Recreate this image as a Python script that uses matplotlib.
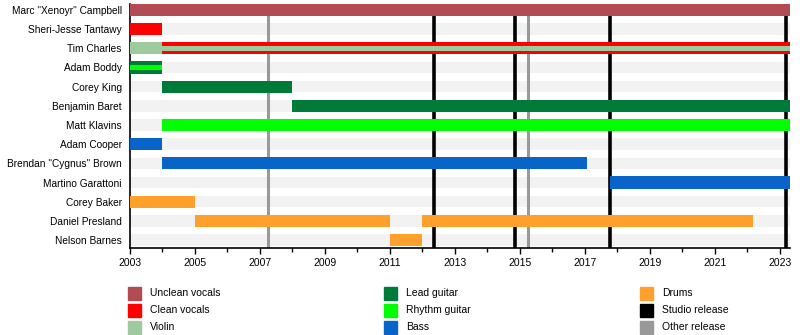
import matplotlib.pyplot as plt
from matplotlib.patches import Rectangle

plt.rcParams['font.family'] = ['Liberation Sans', 'DejaVu Sans']

# band members, top to bottom
members = ['Marc "Xenoyr" Campbell', 'Sheri-Jesse Tantawy', 'Tim Charles',
           'Adam Boddy', 'Corey King', 'Benjamin Baret', 'Matt Klavins',
           'Adam Cooper', 'Brendan "Cygnus" Brown', 'Martino Garattoni',
           'Corey Baker', 'Daniel Presland', 'Nelson Barnes']

START = 2003.0
END = 2023.32

roles = ['Unclean vocals', 'Clean vocals', 'Violin', 'Lead guitar',
         'Rhythm guitar', 'Bass', 'Drums', 'Studio release', 'Other release']
role_colors = ['#b34b52', '#ff0000', '#9dcb9d', '#007a38', '#00ff00',
               '#0864c8', '#ffa02c', '#000000', '#999999']

# (member, start, end, role)
bars = [
    (0, 2003.0, END, 'Unclean vocals'),
    (1, 2003.0, 2004.0, 'Clean vocals'),
    (2, 2003.0, 2004.0, 'Violin'),
    (2, 2004.0, END, 'Clean vocals'),
    (3, 2003.0, 2004.0, 'Lead guitar'),
    (4, 2004.0, 2008.0, 'Lead guitar'),
    (5, 2008.0, END, 'Lead guitar'),
    (6, 2004.0, END, 'Rhythm guitar'),
    (7, 2003.0, 2004.0, 'Bass'),
    (8, 2004.0, 2017.08, 'Bass'),
    (9, 2017.78, END, 'Bass'),
    (10, 2003.0, 2005.0, 'Drums'),
    (11, 2005.0, 2011.0, 'Drums'),
    (11, 2012.0, 2022.17, 'Drums'),
    (12, 2011.0, 2012.0, 'Drums'),
]

# thin secondary-role stripes drawn over the main bar
stripes = [
    (2, 2004.0, END, 'Violin'),
    (3, 2003.0, 2004.0, 'Rhythm guitar'),
]

studio_releases = [2012.35, 2014.85, 2017.78, 2023.19]
other_releases = [2007.26, 2015.25]

col = dict(zip(roles, role_colors))

fig = plt.figure(figsize=(8, 3.35), dpi=100)
ax = fig.add_axes([130 / 800, 1 - 248 / 335, 660 / 800, 244 / 335])

n = len(members)
pitch = 19.17
ax.set_ylim(12 + 8 / pitch, -(10 - 4) / pitch)
ax.set_xlim(START, END)

# light background bands
for i in range(n):
    ax.barh(i, END - START, left=START, height=0.6, color='#f2f2f2', zorder=1)

for x in other_releases:
    ax.axvline(x, color=col['Other release'], lw=2.2, zorder=2)
for x in studio_releases:
    ax.axvline(x, color=col['Studio release'], lw=2.6, zorder=2)

for m, s, e, r in bars:
    ax.barh(m, e - s, left=s, height=0.64, color=col[r], zorder=3)
for m, s, e, r in stripes:
    ax.barh(m, e - s, left=s, height=0.27, color=col[r], zorder=4)

ax.set_yticks(range(n))
ax.set_yticklabels(members, fontsize=7.3)
ax.tick_params(axis='y', length=0, pad=6)
ax.set_xticks(range(2003, 2024, 2))
ax.set_xticks(range(2003, 2024), minor=True)
ax.tick_params(axis='x', labelsize=7.5, length=4, width=1, pad=3)
ax.tick_params(axis='x', which='minor', length=3, width=1)
for sp in ['top', 'right']:
    ax.spines[sp].set_visible(False)
ax.spines['left'].set_linewidth(1.2)
ax.spines['bottom'].set_linewidth(1.2)

# legend, three columns
W, H = 800, 335
for k, (r, c) in enumerate(zip(roles, role_colors)):
    cx = 128 + 256 * (k // 3)
    cy = 293 + 17 * (k % 3)
    fig.patches.append(Rectangle((cx / W, 1 - (cy + 6.5) / H), 13 / W, 13 / H,
                                 transform=fig.transFigure, color=c))
    fig.text((cx + 22) / W, 1 - cy / H, r, fontsize=7.5, va='center')

fig.savefig('out.png', dpi=100)
